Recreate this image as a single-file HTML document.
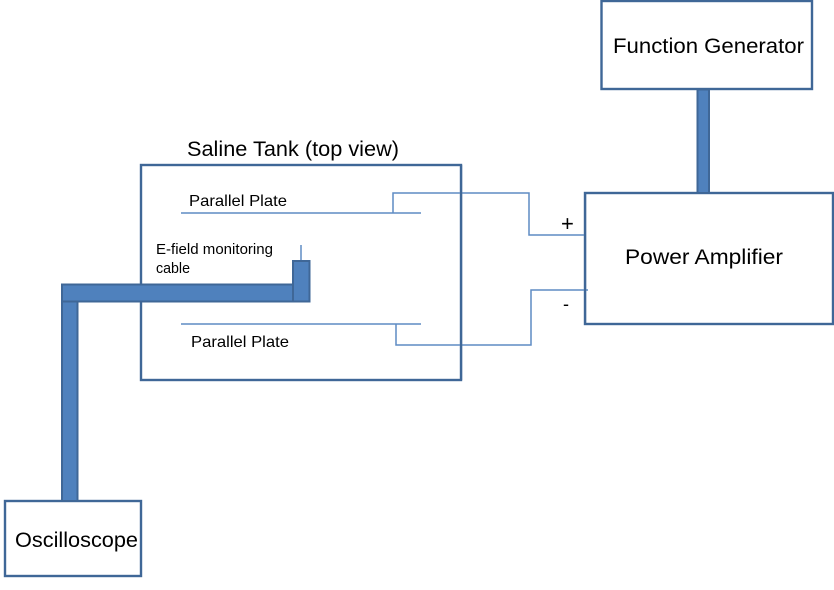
<!DOCTYPE html>
<html>
<head>
<meta charset="utf-8">
<style>
html,body{margin:0;padding:0;background:#fff;}
svg{display:block;}
text{font-family:"Liberation Sans",sans-serif;fill:#000;}
</style>
</head>
<body>
<svg width="834" height="590" viewBox="0 0 834 590" xmlns="http://www.w3.org/2000/svg">
<rect width="834" height="590" fill="#fff"/>
<!-- Boxes -->
<rect x="601.5" y="1" width="210.5" height="88" fill="#fff" stroke="#3f6797" stroke-width="2.4"/>
<rect x="585" y="193" width="248" height="131" fill="#fff" stroke="#3f6797" stroke-width="2.4"/>
<rect x="141" y="165" width="320" height="215" fill="#fff" stroke="#3f6797" stroke-width="2.4"/>
<rect x="5" y="501" width="136" height="75" fill="#fff" stroke="#3f6797" stroke-width="2.4"/>
<!-- Thin wires -->
<g fill="none" stroke="#5f8cc4" stroke-width="1.5">
<path d="M181 213H421"/>
<path d="M393 213V193H529V235H585"/>
<path d="M181 324H421"/>
<path d="M396 324V345H531V290H588"/>
<path d="M301 245V261"/>
</g>
<rect x="460" y="165" width="2.2" height="215" fill="#3f6797"/>
<rect x="584" y="193" width="2.2" height="131" fill="#3f6797"/>
<!-- Thick cables -->
<g fill="#4f81bd" stroke="#3f6797" stroke-width="2">
<rect x="697.5" y="89.5" width="11.5" height="103.5"/>
<rect x="62" y="301" width="15.5" height="200"/>
<rect x="293" y="261" width="16.5" height="40.5"/>
<rect x="62" y="284.5" width="231" height="17"/>
</g>
<!-- Labels -->
<text x="613" y="53" font-size="21.5" textLength="191" lengthAdjust="spacingAndGlyphs">Function Generator</text>
<text x="625" y="264" font-size="21.5" textLength="158" lengthAdjust="spacingAndGlyphs">Power Amplifier</text>
<text x="187" y="156" font-size="21.5" textLength="212" lengthAdjust="spacingAndGlyphs">Saline Tank (top view)</text>
<text x="15" y="547" font-size="21.5" textLength="123" lengthAdjust="spacingAndGlyphs">Oscilloscope</text>
<text x="189" y="206" font-size="16" textLength="98" lengthAdjust="spacingAndGlyphs">Parallel Plate</text>
<text x="191" y="347" font-size="16" textLength="98" lengthAdjust="spacingAndGlyphs">Parallel Plate</text>
<text x="156" y="254" font-size="14.5" textLength="117" lengthAdjust="spacingAndGlyphs">E-field monitoring</text>
<text x="156" y="273" font-size="14.5" textLength="34" lengthAdjust="spacingAndGlyphs">cable</text>
<text x="561" y="231" font-size="22">+</text>
<text x="563" y="310" font-size="18">-</text>
</svg>
</body>
</html>
